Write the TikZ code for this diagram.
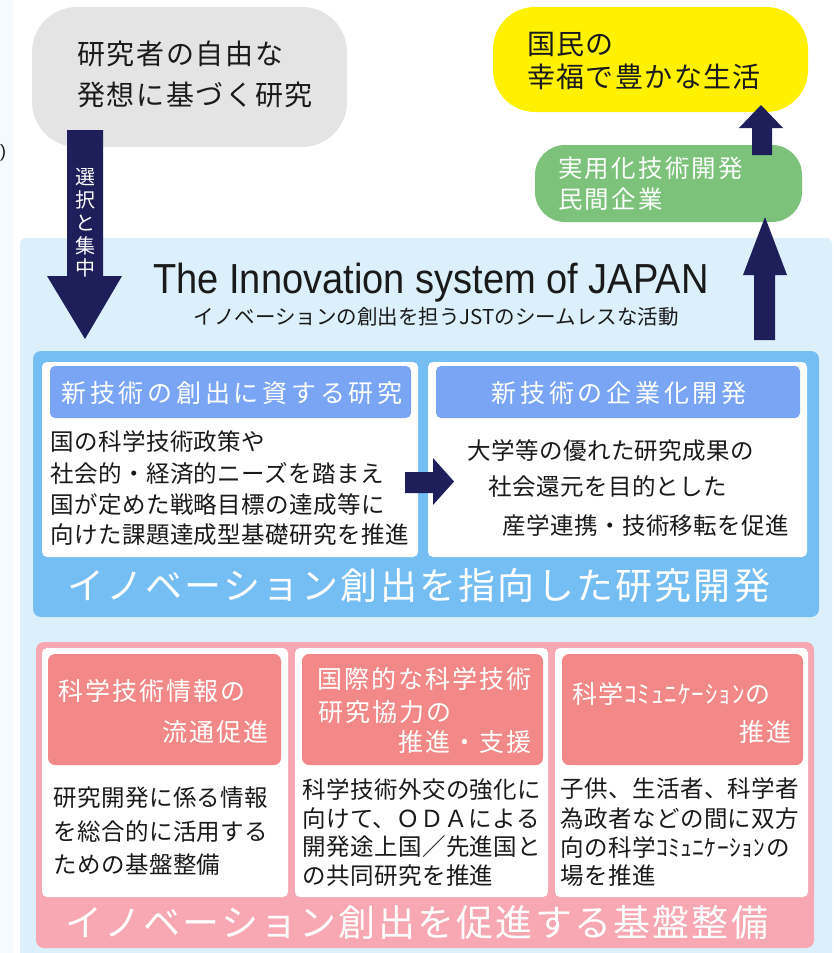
\documentclass[tikz,border=0pt]{standalone}
\usepackage{fontspec}
\setmainfont{Noto Sans CJK JP}
\newfontfamily\latinsans{Liberation Sans}
\usetikzlibrary{fit}
\definecolor{stripc}{HTML}{F4FAFD}
\definecolor{panelc}{HTML}{DBF0FA}
\definecolor{grayc}{HTML}{E4E4E4}
\definecolor{yellowc}{HTML}{FFF100}
\definecolor{greenc}{HTML}{7DC27B}
\definecolor{navyc}{HTML}{1E1E5A}
\definecolor{bluec}{HTML}{75BEF4}
\definecolor{bheadc}{HTML}{7AA5F5}
\definecolor{pinkc}{HTML}{F7A8B3}
\definecolor{pheadc}{HTML}{F38888}
\definecolor{txtc}{HTML}{1A1A1A}
\newcommand\jf[2]{\fontsize{#1}{#1}\selectfont\addfontfeatures{LetterSpace=#2}}
\tikzset{
  area/.style={inner sep=0, outer sep=0, draw=none},
  lt/.style={inner sep=0, anchor=base west, text=txtc},
  wt/.style={inner sep=0, anchor=base west, text=white},
  bigtop/.style={font=\jf{28}{6}},
  body/.style={font=\jf{23.5}{2}},
  bhead/.style={font=\jf{25}{15}},
  phead/.style={font=\jf{25}{8}},
  bigw/.style={font=\jf{37}{6}},
  blockarrow/.style={fill=navyc, draw=none}
}
\begin{document}
\begin{tikzpicture}[x=1pt,y=-1pt]
\clip (0,0) rectangle (834,953);
\fill[stripc] (0,0) rectangle (14,953);
\node[area, fill=panelc, rounded corners=6, fit={(20,238) (832,975)}] (panel) {};
\node[inner sep=0, anchor=base west, text=txtc, font=\latinsans\fontsize{18}{18}\selectfont] (paren) at (0,157) {)};

% top boxes
\node[area, fill=grayc, rounded corners=45, fit={(32,7) (347,147)}] (gray) {};
\node[lt, bigtop] (g1) at (77,64.1) {研究者の自由な};
\node[lt, bigtop] (g2) at (77,105.6) {発想に基づく研究};

\node[area, fill=yellowc, rounded corners=42, fit={(493,7) (808,112)}] (yellow) {};
\node[lt, font=\jf{28}{5}] (y1) at (527,54.1) {国民の};
\node[lt, font=\jf{28}{5}] (y2) at (527,87.1) {幸福で豊かな生活};

\node[area, fill=greenc, rounded corners=30, fit={(535,145) (802,222)}] (green) {};
\node[wt, font=\jf{24.5}{9}] (gr1) at (558,177.3) {実用化技術開発};
\node[wt, font=\jf{24.5}{9}] (gr2) at (558,208.3) {民間企業};

% arrows
\fill[blockarrow] (67,130) -- (103,130) -- (103,276) -- (122,276) -- (85,339) -- (47,276) -- (67,276) -- cycle;
\foreach \c [count=\i] in {選,択,と,集,中}
  \node[inner sep=0, anchor=base, text=white, font=\fontsize{20}{20}\selectfont] (sel\i) at (85,{177+7.6+22.8*(\i-1)}) {\c};
\fill[blockarrow] (752,155) -- (752,128) -- (739,128) -- (761,105) -- (783,128) -- (772,128) -- (772,155) -- cycle;
\fill[blockarrow] (754,340) -- (754,275) -- (743,275) -- (765,217) -- (787,275) -- (775,275) -- (775,340) -- cycle;

% title
\node[inner sep=0, anchor=base, text=txtc, font=\latinsans\fontsize{42}{42}\selectfont] (title) at (431,293) {\scalebox{0.906}[1]{The Innovation system of JAPAN}};
\node[inner sep=0, anchor=base, text=txtc, font=\fontsize{20.5}{20.5}\selectfont] (subtitle) at (436,324) {イノベーションの創出を担うJSTのシームレスな活動};

% blue section
\node[area, fill=bluec, rounded corners=8, fit={(33,351) (819,617)}] (blue) {};
\node[area, fill=white, rounded corners=5, fit={(42,362) (418,557)}] (wb1) {};
\node[area, fill=white, rounded corners=5, fit={(428,362) (807,557)}] (wb2) {};
\node[area, fill=bheadc, rounded corners=5, fit={(50,366) (411,418)}] (bh1) {};
\node[area, fill=bheadc, rounded corners=5, fit={(436,366) (800,418)}] (bh2) {};
\node[inner sep=0, anchor=base, text=white, bhead] (bh1t) at (232,402.5) {新技術の創出に資する研究};
\node[inner sep=0, anchor=base, text=white, bhead] (bh2t) at (619,402.5) {新技術の企業化開発};
\node[lt, body] (b11) at (50,450.9) {国の科学技術政策や};
\node[lt, body] (b12) at (50,482.4) {社会的・経済的ニーズを踏まえ};
\node[lt, body] (b13) at (50,513.9) {国が定めた戦略目標の達成等に};
\node[lt, body] (b14) at (50,543.9) {向けた課題達成型基礎研究を推進};
\node[lt, body] (b21) at (467,459.9) {大学等の優れた研究成果の};
\node[lt, body] (b22) at (488,495.9) {社会還元を目的とした};
\node[lt, body] (b23) at (502,534.9) {産学連携・技術移転を促進};
\fill[blockarrow] (405,472) -- (433,472) -- (433,458) -- (454,481.5) -- (433,505) -- (433,493) -- (405,493) -- cycle;
\node[wt, bigw] (bbig) at (67,599) {イノベーション創出を指向した研究開発};

% pink section
\node[area, fill=pinkc, rounded corners=8, fit={(36,642) (814,948)}] (pink) {};
\node[area, fill=white, rounded corners=5, fit={(42,648) (288,897)}] (pw1) {};
\node[area, fill=white, rounded corners=5, fit={(295,648) (548,897)}] (pw2) {};
\node[area, fill=white, rounded corners=5, fit={(555,648) (808,897)}] (pw3) {};
\node[area, fill=pheadc, rounded corners=7, fit={(48,654) (281,765)}] (ph1) {};
\node[area, fill=pheadc, rounded corners=7, fit={(302,654) (543,765)}] (ph2) {};
\node[area, fill=pheadc, rounded corners=7, fit={(562,654) (803,765)}] (ph3) {};
\node[wt, phead] (ph1a) at (58,700.5) {科学技術情報の};
\node[wt, phead, anchor=base east] (ph1b) at (269,741) {流通促進};
\node[wt, phead] (ph2a) at (317,688.5) {国際的な科学技術};
\node[wt, phead] (ph2b) at (318,721.5) {研究協力の};
\node[wt, phead, anchor=base east] (ph2c) at (532,751.5) {推進・支援};
\node[wt, font=\jf{25}{4}] (ph3a) at (572,703.5) {科学ｺﾐｭﾆｹｰｼｮﾝの};
\node[wt, phead, anchor=base east] (ph3b) at (792,741.5) {推進};
\node[lt, body] (p11) at (53,806.9) {研究開発に係る情報};
\node[lt, body] (p12) at (53,840.9) {を総合的に活用する};
\node[lt, body] (p13) at (53,873.9) {ための基盤整備};
\node[lt, body] (p21) at (302,798.9) {科学技術外交の強化に};
\node[lt, body] (p22) at (302,827.9) {向けて、ＯＤＡによる};
\node[lt, body] (p23) at (302,855.9) {開発途上国／先進国と};
\node[lt, body] (p24) at (302,884.9) {の共同研究を推進};
\node[lt, body] (p31) at (560,797.9) {子供、生活者、科学者};
\node[lt, body] (p32) at (560,827.9) {為政者などの間に双方};
\node[lt, body] (p33) at (560,856.9) {向の科学ｺﾐｭﾆｹｰｼｮﾝの};
\node[lt, body] (p34) at (560,884.9) {場を推進};
\node[wt, bigw] (pbig) at (65,936) {イノベーション創出を促進する基盤整備};
\end{tikzpicture}
\end{document}
